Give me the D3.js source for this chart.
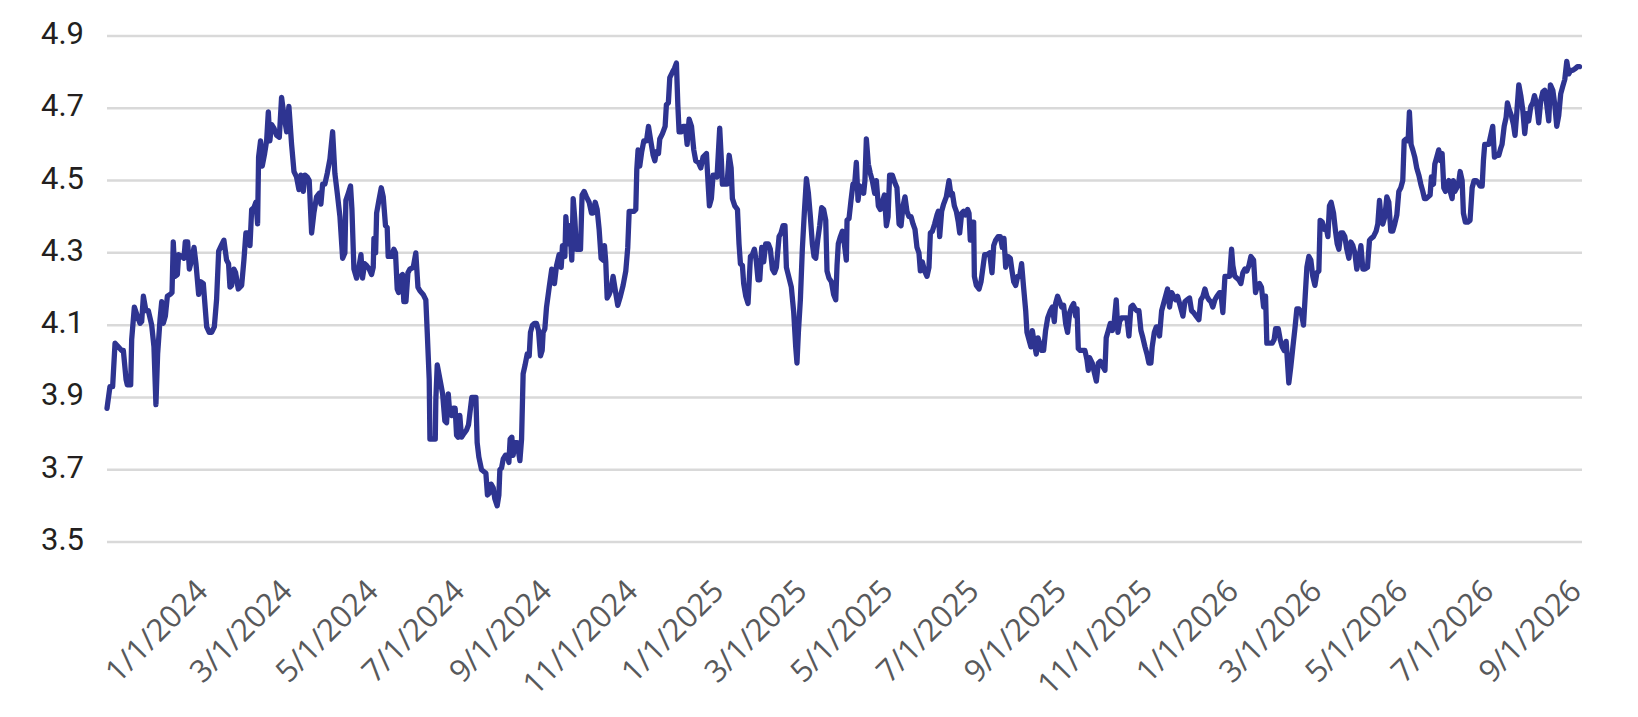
<!DOCTYPE html>
<html lang="en">
<head>
    <meta charset="UTF-8">
    <title>Yield</title>
    <script src="https://cdn.jsdelivr.net/npm/d3@7"></script>
    <style>
        body { margin: 0; background: #fff; }
    </style>
</head>
<body>
    <div id="root"></div>
    <script>
        // first observation; each point below is [days after startDate, value]
        const startDate = "2023-10-21";
        const endDate = "2026-09-01";

        const xTickLabels = [
            "1/1/2024", "3/1/2024", "5/1/2024", "7/1/2024", "9/1/2024", "11/1/2024",
            "1/1/2025", "3/1/2025", "5/1/2025", "7/1/2025", "9/1/2025", "11/1/2025",
            "1/1/2026", "3/1/2026", "5/1/2026", "7/1/2026", "9/1/2026"
        ];
        const yTicks = [3.5, 3.7, 3.9, 4.1, 4.3, 4.5, 4.7, 4.9];

        const yieldPoints = [
            [0,3.87],[2.1,3.93],[4.0,3.93],[5.7,4.05],[8.0,4.04],[10.4,4.03],[11.6,4.03],[13.5,3.95],[14.4,3.935],[16.8,3.935],
            [17.5,4.06],[19.4,4.15],[21.5,4.125],[23.4,4.105],[24.6,4.11],[25.8,4.18],[27.6,4.14],[29.3,4.14],[31.7,4.1],[33.3,4.04],
            [34.7,3.88],[35.9,4.02],[37.6,4.115],[38.8,4.165],[39.9,4.105],[41.4,4.125],[42.8,4.18],[44.7,4.185],[46.1,4.19],[47.0,4.33],
            [48.2,4.235],[49.9,4.24],[50.8,4.295],[52.9,4.29],[54.6,4.285],[55.5,4.33],[57.2,4.33],[58.4,4.255],[60.0,4.28],[61.7,4.315],
            [63.1,4.27],[65.0,4.185],[66.6,4.22],[68.3,4.215],[70.7,4.095],[72.5,4.08],[74.2,4.08],[76.1,4.095],[77.7,4.17],[79.2,4.305],
            [81.0,4.32],[82.9,4.335],[84.8,4.28],[86.2,4.27],[87.2,4.205],[88.4,4.21],[90.0,4.255],[91.2,4.245],[93.1,4.2],[95.5,4.21],
            [97.1,4.28],[98.5,4.355],[100.2,4.355],[101.4,4.32],[102.6,4.42],[104.2,4.425],[105.6,4.44],[106.8,4.38],[107.5,4.565],[108.9,4.61],
            [110.1,4.54],[111.8,4.575],[113.2,4.61],[114.4,4.69],[115.5,4.61],[116.7,4.655],[118.4,4.645],[120.3,4.625],[122.2,4.62],[123.8,4.73],
            [125.5,4.68],[127.4,4.635],[129.0,4.705],[130.9,4.6],[132.6,4.525],[134.4,4.51],[136.1,4.475],[137.5,4.515],[139.2,4.47],[140.4,4.515],
            [142.0,4.51],[143.4,4.5],[145.1,4.355],[146.7,4.41],[148.6,4.455],[150.5,4.465],[151.7,4.435],[152.9,4.49],[154.5,4.49],[156.2,4.52],
            [158.1,4.56],[160.0,4.635],[161.6,4.52],[163.3,4.465],[165.2,4.4],[167.1,4.285],[168.7,4.3],[169.4,4.445],[171.1,4.465],[172.7,4.485],
            [173.7,4.42],[175.1,4.255],[177.0,4.23],[178.4,4.255],[180.1,4.295],[181.2,4.23],[182.7,4.27],[184.1,4.265],[186.0,4.255],[187.6,4.24],
            [188.8,4.26],[189.3,4.34],[190.5,4.3],[191.2,4.41],[192.8,4.445],[194.5,4.48],[195.9,4.455],[197.5,4.375],[198.7,4.37],[199.4,4.29],
            [201.8,4.29],[203.4,4.31],[204.6,4.3],[205.8,4.2],[206.8,4.19],[208.2,4.235],[209.6,4.24],[210.5,4.165],[212.0,4.165],[213.4,4.245],
            [214.8,4.255],[217.2,4.26],[219.0,4.3],[220.5,4.205],[221.9,4.195],[224.2,4.185],[226.1,4.17],[227.1,4.08],[228.5,3.95],[229.0,3.785],
            [230.9,3.785],[232.8,3.785],[233.2,3.895],[234.2,3.99],[236.1,3.95],[238.0,3.91],[239.6,3.835],[240.8,3.83],[242.0,3.91],[243.1,3.855],
            [244.3,3.85],[245.5,3.87],[246.9,3.87],[247.9,3.795],[249.0,3.79],[250.2,3.85],[251.4,3.79],[253.1,3.8],[255.0,3.81],[256.4,3.825],
            [257.3,3.855],[258.7,3.9],[260.2,3.9],[261.6,3.9],[262.5,3.775],[263.7,3.735],[265.6,3.7],[267.2,3.695],[268.7,3.69],[269.8,3.63],
            [271.0,3.635],[272.4,3.66],[273.9,3.65],[275.0,3.62],[276.7,3.6],[277.9,3.63],[278.6,3.7],[279.8,3.705],[281.0,3.73],[282.6,3.74],
            [283.8,3.74],[285.0,3.72],[285.9,3.785],[287.1,3.79],[288.0,3.74],[289.5,3.775],[290.9,3.775],[292.8,3.725],[294.0,3.785],[295.1,3.965],
            [296.5,3.99],[298.0,4.02],[299.4,4.015],[300.3,4.08],[301.7,4.1],[303.2,4.105],[304.6,4.105],[306.0,4.085],[307.4,4.015],[308.6,4.03],
            [309.3,4.08],[310.5,4.09],[311.7,4.15],[313.6,4.205],[315.4,4.255],[317.3,4.215],[318.8,4.265],[320.6,4.295],[322.1,4.26],[323.0,4.32],
            [324.7,4.29],[325.4,4.4],[326.8,4.325],[328.2,4.375],[329.6,4.28],[330.6,4.45],[331.8,4.39],[332.9,4.31],[335.8,4.31],[336.9,4.46],
            [338.4,4.47],[340.0,4.455],[341.9,4.44],[343.6,4.41],[344.7,4.41],[346.2,4.44],[347.6,4.42],[349.0,4.365],[350.4,4.285],[351.8,4.28],
            [352.8,4.32],[353.7,4.275],[354.7,4.175],[356.1,4.185],[357.5,4.2],[358.9,4.235],[360.3,4.2],[362.2,4.155],[364.1,4.18],[366.0,4.21],
            [367.9,4.25],[369.3,4.315],[370.3,4.415],[371.9,4.415],[373.8,4.415],[375.0,4.42],[375.7,4.53],[376.6,4.585],[377.8,4.54],[379.2,4.58],
            [380.7,4.61],[382.6,4.61],[384.0,4.65],[385.6,4.61],[387.3,4.57],[388.5,4.555],[389.6,4.58],[391.1,4.575],[392.0,4.615],[393.9,4.63],
            [395.8,4.65],[396.7,4.71],[398.1,4.715],[399.1,4.785],[401.0,4.8],[402.4,4.81],[403.8,4.825],[404.8,4.71],[405.7,4.635],[407.4,4.635],
            [408.5,4.65],[410.2,4.65],[411.4,4.6],[412.8,4.67],[414.5,4.65],[416.1,4.585],[417.5,4.555],[419.4,4.55],[421.1,4.535],[422.7,4.565],
            [425.1,4.575],[426.3,4.49],[427.2,4.43],[428.6,4.45],[429.8,4.515],[431.2,4.515],[432.6,4.51],[434.5,4.645],[435.7,4.555],[436.4,4.49],
            [438.1,4.49],[439.7,4.49],[441.2,4.57],[442.6,4.535],[443.5,4.45],[445.2,4.43],[447.1,4.42],[448.2,4.325],[449.2,4.27],[450.6,4.265],
            [451.5,4.215],[453.0,4.18],[454.6,4.16],[456.3,4.29],[457.7,4.295],[459.1,4.31],[460.5,4.275],[461.7,4.225],[462.9,4.225],[464.3,4.315],
            [465.7,4.275],[467.1,4.325],[469.0,4.325],[470.4,4.31],[471.9,4.255],[473.3,4.245],[474.7,4.26],[476.6,4.345],[478.0,4.355],[479.4,4.375],
            [480.8,4.375],[481.8,4.26],[483.7,4.23],[485.3,4.205],[487.0,4.135],[488.4,4.04],[489.3,3.995],[490.3,4.08],[491.7,4.17],[493.1,4.31],
            [494.5,4.41],[496.0,4.505],[497.4,4.465],[498.8,4.4],[500.2,4.325],[501.4,4.29],[502.6,4.285],[504.0,4.335],[505.4,4.375],[506.8,4.425],
            [508.2,4.42],[509.7,4.39],[510.6,4.25],[512.0,4.23],[513.7,4.22],[515.3,4.185],[516.8,4.17],[517.7,4.265],[518.6,4.325],[520.1,4.345],
            [521.5,4.36],[522.9,4.325],[524.3,4.28],[524.8,4.39],[526.2,4.395],[527.6,4.445],[529.0,4.49],[530.2,4.49],[531.4,4.55],[532.6,4.445],
            [533.8,4.485],[535.2,4.475],[536.6,4.465],[537.5,4.5],[538.5,4.615],[539.9,4.545],[541.3,4.52],[542.7,4.5],[544.4,4.465],[545.6,4.5],
            [547.0,4.43],[548.4,4.42],[549.8,4.44],[551.3,4.46],[552.7,4.375],[553.9,4.4],[555.0,4.515],[556.9,4.515],[558.6,4.495],[560.2,4.48],
            [561.7,4.38],[563.1,4.375],[564.5,4.43],[565.9,4.455],[567.3,4.415],[568.7,4.4],[570.2,4.4],[571.6,4.38],[573.0,4.365],[574.4,4.315],
            [575.8,4.3],[576.8,4.25],[578.2,4.275],[579.8,4.25],[581.5,4.235],[582.9,4.26],[583.9,4.355],[585.3,4.36],[586.9,4.38],[588.6,4.405],
            [589.5,4.415],[590.5,4.345],[591.9,4.415],[593.3,4.435],[595.2,4.455],[597.1,4.5],[598.5,4.46],[599.5,4.465],[600.9,4.43],[602.3,4.415],
            [603.7,4.385],[604.7,4.355],[606.1,4.41],[607.5,4.415],[608.9,4.405],[610.3,4.42],[611.3,4.41],[612.2,4.335],[613.4,4.385],[614.6,4.385],
            [615.1,4.235],[616.5,4.21],[618.4,4.2],[619.8,4.22],[621.2,4.26],[622.4,4.295],[624.1,4.295],[625.9,4.3],[627.6,4.245],[628.8,4.32],
            [630.2,4.335],[631.9,4.345],[633.5,4.345],[634.9,4.315],[636.1,4.34],[637.3,4.26],[638.9,4.29],[640.6,4.285],[641.8,4.25],[643.0,4.22],
            [644.4,4.21],[645.8,4.235],[647.2,4.235],[648.6,4.27],[650.0,4.205],[651.5,4.14],[652.4,4.08],[653.8,4.06],[655.2,4.04],[656.2,4.085],
            [657.6,4.05],[659.0,4.02],[660.2,4.065],[661.4,4.05],[662.8,4.03],[664.2,4.03],[665.6,4.085],[667.1,4.12],[669.0,4.14],[670.4,4.15],
            [671.8,4.11],[672.7,4.16],[674.1,4.18],[675.6,4.165],[677.0,4.15],[678.4,4.155],[679.8,4.105],[681.2,4.08],[682.7,4.135],[684.1,4.15],
            [685.5,4.16],[686.9,4.125],[687.9,4.145],[688.8,4.035],[690.2,4.03],[692.1,4.03],[693.5,4.03],[694.9,4.005],[695.9,3.975],[696.8,4.01],
            [698.7,3.995],[700.1,3.97],[701.6,3.945],[703.0,3.995],[704.4,4.0],[706.3,3.985],[707.7,3.975],[708.6,4.065],[710.1,4.085],[711.5,4.105],
            [712.9,4.085],[714.3,4.11],[715.7,4.17],[716.9,4.08],[718.1,4.11],[719.5,4.12],[720.9,4.12],[723.3,4.12],[724.7,4.07],[726.1,4.15],
            [727.5,4.155],[729.0,4.145],[730.4,4.14],[731.8,4.14],[733.2,4.085],[734.6,4.065],[736.1,4.04],[737.5,4.02],[738.9,3.995],[740.3,3.995],
            [741.2,4.04],[742.7,4.08],[744.1,4.095],[745.3,4.095],[746.4,4.07],[747.9,4.14],[749.3,4.16],[750.7,4.18],[752.1,4.2],[753.5,4.15],
            [755.0,4.19],[756.4,4.18],[757.8,4.17],[759.2,4.18],[760.6,4.16],[762.0,4.14],[763.0,4.125],[764.4,4.165],[765.8,4.17],[767.7,4.175],
            [769.1,4.14],[770.5,4.135],[772.4,4.125],[774.3,4.115],[775.7,4.17],[777.2,4.18],[778.6,4.2],[780.0,4.18],[781.4,4.17],[782.8,4.165],
            [784.2,4.15],[785.7,4.17],[787.1,4.18],[789.0,4.19],[789.9,4.19],[791.3,4.135],[792.8,4.235],[794.2,4.235],[796.1,4.235],[797.5,4.31],
            [798.4,4.265],[799.8,4.235],[801.3,4.23],[802.7,4.225],[804.1,4.215],[805.5,4.245],[806.9,4.255],[808.3,4.25],[809.8,4.265],[811.2,4.29],
            [813.1,4.28],[814.5,4.19],[815.9,4.21],[817.3,4.215],[818.7,4.205],[820.2,4.15],[821.6,4.18],[822.5,4.05],[824.4,4.05],[826.3,4.05],
            [827.7,4.06],[828.7,4.09],[830.6,4.09],[832.0,4.06],[833.4,4.04],[834.8,4.03],[836.2,4.055],[837.2,3.995],[838.1,3.94],[839.5,3.985],
            [841.0,4.04],[842.4,4.09],[843.8,4.145],[845.2,4.145],[846.9,4.135],[848.5,4.1],[849.7,4.18],[850.9,4.26],[852.3,4.29],[853.7,4.28],
            [855.1,4.235],[856.6,4.21],[858.0,4.245],[859.4,4.25],[860.3,4.39],[861.8,4.385],[863.4,4.365],[864.6,4.37],[865.8,4.345],[866.9,4.43],
            [868.1,4.44],[869.8,4.41],[871.2,4.36],[872.4,4.325],[873.6,4.31],[875.0,4.355],[876.4,4.355],[877.8,4.345],[879.2,4.31],[880.7,4.285],
            [882.1,4.33],[883.5,4.32],[884.9,4.3],[886.3,4.255],[887.7,4.28],[889.2,4.32],[890.6,4.255],[892.0,4.255],[893.9,4.26],[895.3,4.335],
            [896.5,4.34],[898.1,4.345],[900.0,4.36],[901.2,4.38],[902.4,4.445],[903.6,4.39],[904.7,4.38],[906.2,4.4],[907.6,4.455],[909.0,4.44],
            [910.4,4.36],[911.8,4.36],[913.2,4.38],[914.7,4.405],[916.1,4.47],[917.5,4.48],[918.9,4.5],[919.9,4.61],[921.3,4.615],[922.7,4.61],
            [923.6,4.69],[924.8,4.6],[926.0,4.585],[927.4,4.565],[928.8,4.535],[930.3,4.515],[931.7,4.49],[933.1,4.47],[934.3,4.45],[935.5,4.45],
            [936.9,4.455],[938.3,4.46],[939.2,4.51],[940.7,4.49],[941.6,4.545],[943.0,4.565],[944.4,4.585],[945.6,4.555],[946.8,4.575],[948.0,4.48],
            [949.2,4.47],[950.1,4.49],[951.5,4.5],[952.9,4.465],[953.9,4.45],[954.8,4.5],[955.8,4.47],[957.2,4.48],[958.4,4.49],[959.6,4.525],
            [961.0,4.5],[961.9,4.41],[963.3,4.385],[965.0,4.385],[966.6,4.39],[968.1,4.48],[969.5,4.5],[970.9,4.5],[972.3,4.495],[973.7,4.485],
            [975.2,4.485],[976.1,4.555],[977.0,4.6],[978.5,4.6],[979.9,4.6],[981.3,4.625],[982.7,4.65],[983.9,4.565],[985.6,4.57],[987.0,4.57],
            [988.4,4.59],[989.3,4.6],[990.8,4.65],[992.2,4.675],[993.1,4.715],[994.1,4.7],[995.9,4.68],[997.4,4.655],[998.5,4.625],[999.7,4.685],
            [1001.2,4.765],[1002.6,4.735],[1004.0,4.695],[1005.4,4.63],[1006.8,4.685],[1008.2,4.665],[1009.7,4.705],[1011.1,4.715],[1012.3,4.735],[1013.9,4.71],
            [1015.3,4.66],[1016.7,4.72],[1018.2,4.745],[1019.6,4.75],[1021.0,4.71],[1022.4,4.665],[1023.6,4.765],[1025.3,4.75],[1026.7,4.71],[1028.1,4.65],
            [1029.5,4.68],[1030.9,4.74],[1032.3,4.76],[1033.8,4.78],[1035.2,4.83],[1036.6,4.795],[1038.0,4.805],[1039.4,4.805],[1041.3,4.81],[1042.7,4.815],
            [1044.2,4.815]
        ];

        const width = 1638;
        const height = 717;
        const margin = {top: 36, right: 56, bottom: 175, left: 107};

        const parseIso = d3.timeParse("%Y-%m-%d");
        const parseLabel = d3.timeParse("%m/%d/%Y");
        const t0 = parseIso(startDate);
        const dayMs = 24 * 60 * 60 * 1000;

        const data = yieldPoints.map(p => ({
            date: new Date(t0.getTime() + p[0] * dayMs),
            value: p[1]
        }));

        const x = d3.scaleTime()
            .domain([t0, parseIso(endDate)])
            .range([margin.left, width - margin.right]);

        const y = d3.scaleLinear()
            .domain([3.5, 4.9])
            .range([height - margin.bottom, margin.top]);

        const svg = d3.select("#root")
            .append("svg")
            .attr("width", width)
            .attr("height", height)
            .style("display", "block");

        // horizontal gridlines
        svg.append("g")
            .selectAll("line")
            .data(yTicks)
            .enter()
            .append("line")
            .attr("x1", margin.left)
            .attr("x2", width - margin.right)
            .attr("y1", d => y(d))
            .attr("y2", d => y(d))
            .attr("stroke", "#d9d9d9")
            .attr("stroke-width", 2.5);

        // y labels
        svg.append("g")
            .selectAll("text")
            .data(yTicks)
            .enter()
            .append("text")
            .attr("x", 84)
            .attr("y", d => y(d) + 8)
            .attr("text-anchor", "end")
            .attr("font-family", "'Liberation Sans Narrow', 'Roboto', sans-serif")
            .attr("font-size", 31)
            .attr("fill", "#231f20")
            .text(d => d3.format(".1f")(d));

        // x labels, rotated
        svg.append("g")
            .selectAll("text")
            .data(xTickLabels)
            .enter()
            .append("text")
            .attr("transform", d => `translate(${x(parseLabel(d)) + 1},593) rotate(-45)`)
            .attr("text-anchor", "end")
            .attr("font-family", "'Open Sans', sans-serif")
            .attr("font-size", 31)
            .attr("fill", "#58595b")
            .text(d => d);

        const line = d3.line()
            .x(d => x(d.date))
            .y(d => y(d.value));

        svg.append("path")
            .datum(data)
            .attr("d", line)
            .attr("fill", "none")
            .attr("stroke", "#2e3491")
            .attr("stroke-width", 5.3)
            .attr("stroke-linejoin", "round")
            .attr("stroke-linecap", "round");
    </script>
</body>
</html>
